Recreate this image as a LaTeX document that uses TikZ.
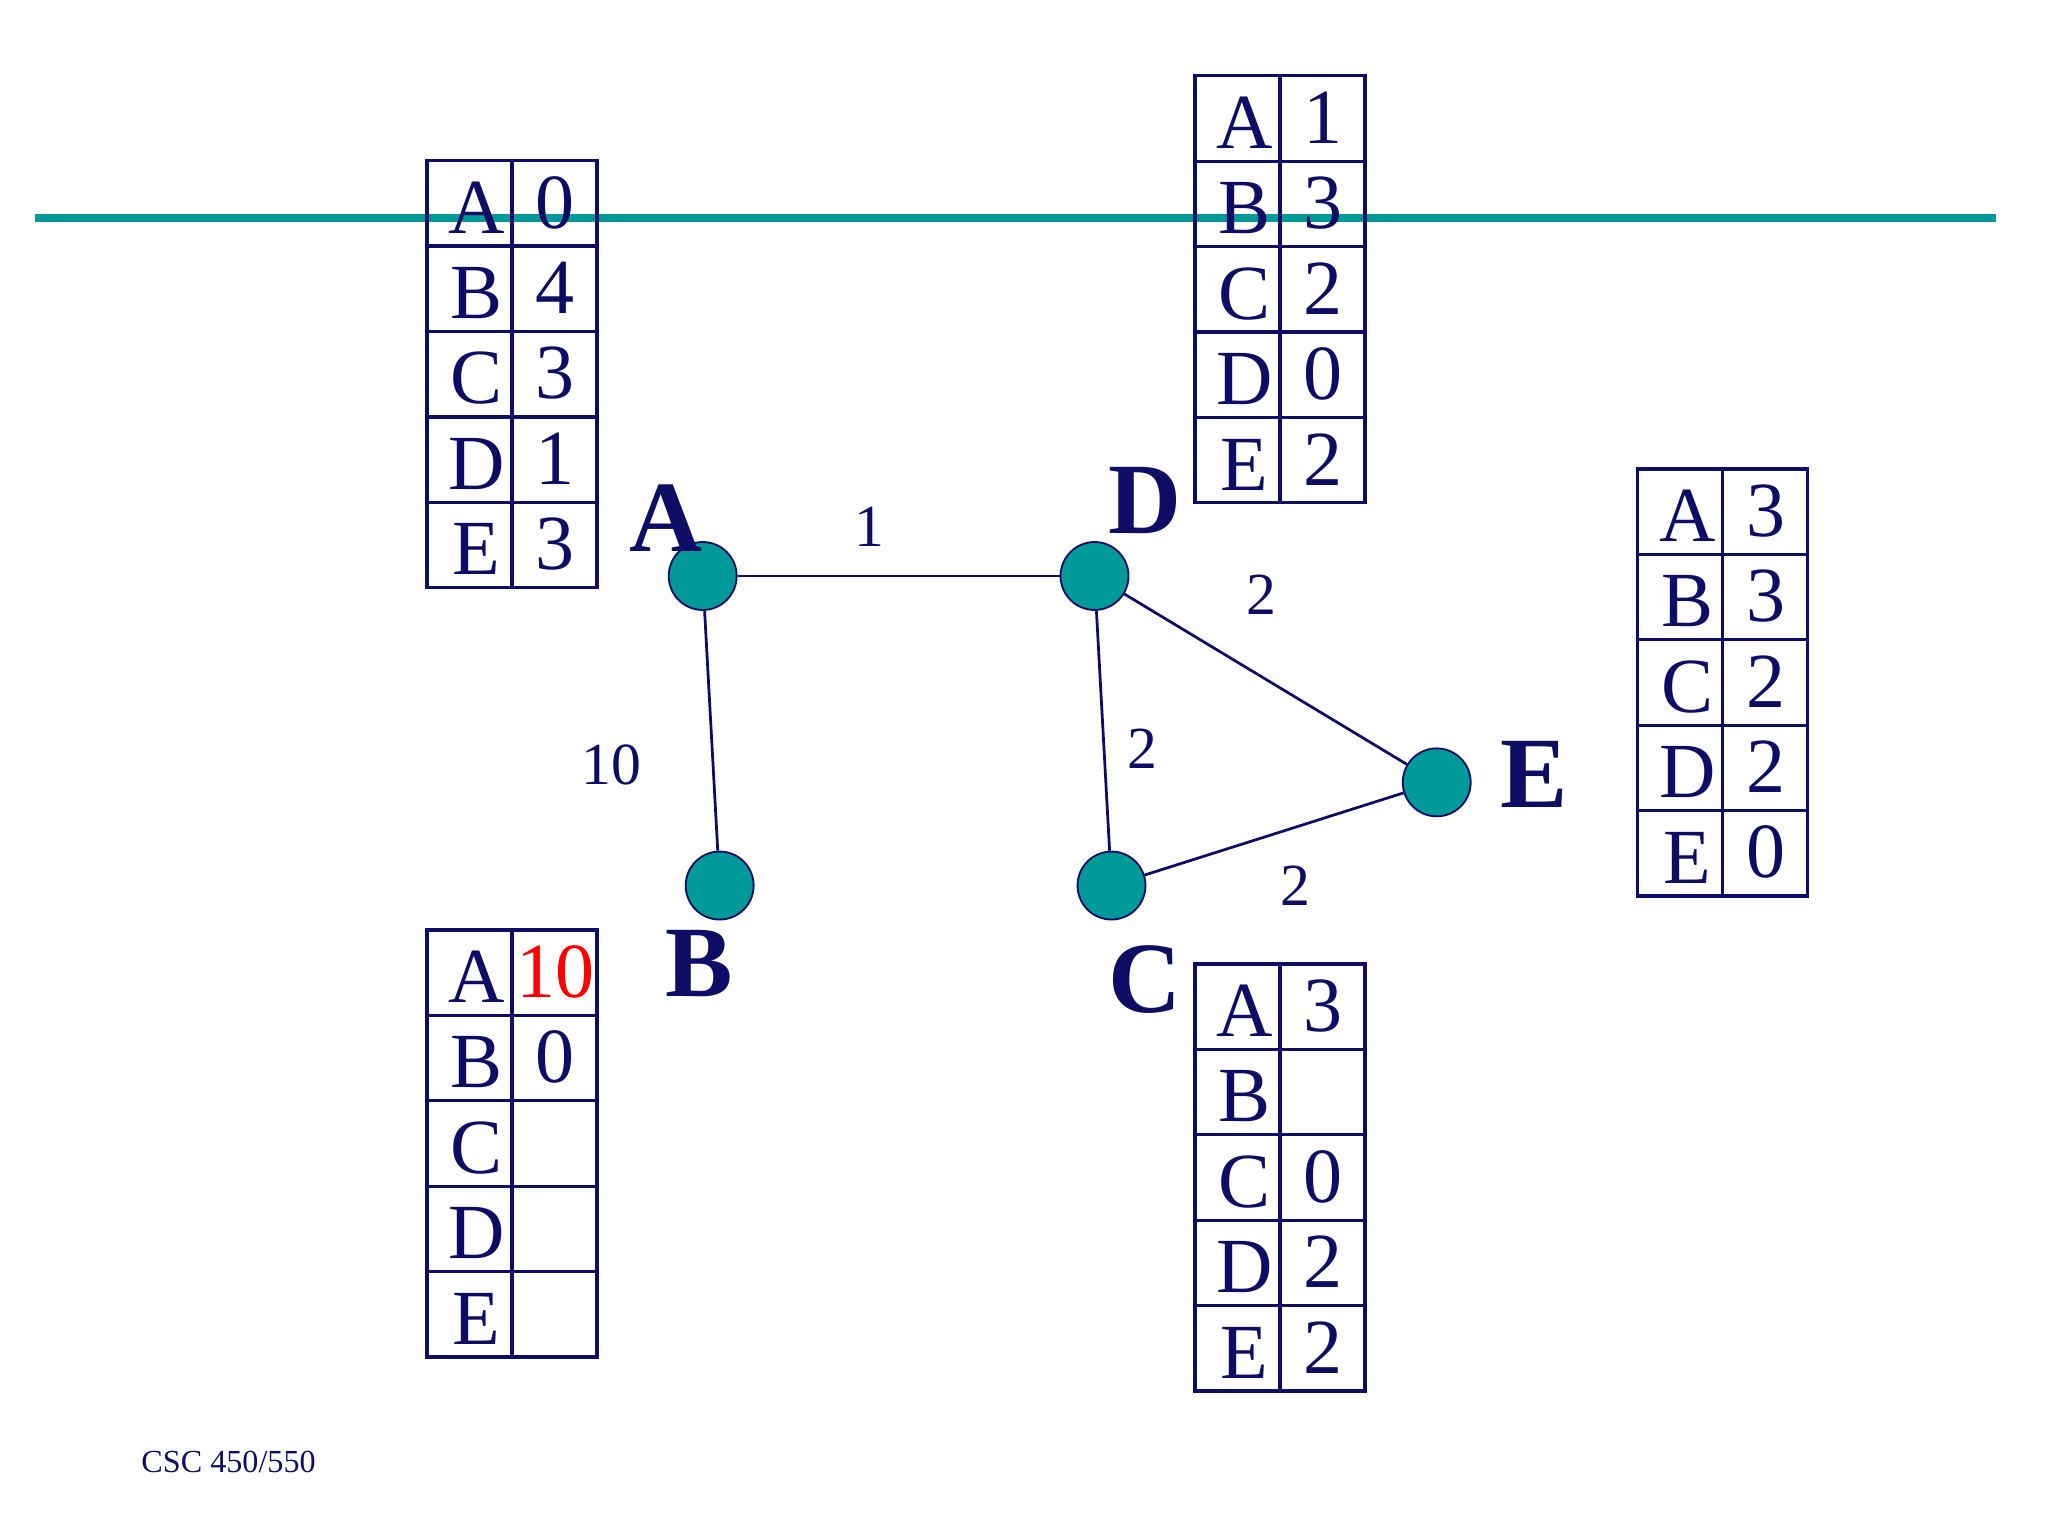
\documentclass[tikz,border=0pt]{standalone}
\usepackage{fontspec}
\setmainfont{Liberation Serif}
\definecolor{navy}{rgb}{0.05,0.05,0.4}
\definecolor{tealc}{rgb}{0,0.6,0.6}
\begin{document}
\begin{tikzpicture}[x=0.01cm,y=-0.01cm,
  vtx/.style={circle,fill=tealc,draw=navy,minimum size=0.52cm,inner sep=0pt},
  big/.style={text=navy,font=\fontsize{22}{24}\selectfont\bfseries},
  elab/.style={text=navy,font=\fontsize{13}{15}\selectfont},
  cell/.style={text=navy,font=\fontsize{17}{19}\selectfont},
  edge/.style={draw=navy,line width=0.6pt}]
\useasboundingbox (0,0) rectangle (1568,1176);
\draw[tealc,line width=1.8pt] (27,167) -- (1528,167);
% tables: \tbl{x}{ytop}{name}{values}
\newcommand\mytbl[4]{%
  \draw[navy,line width=0.7pt] (#1,#2) rectangle ++(130,327);
  \draw[navy,line width=0.7pt] (#1+65,#2) -- ++(0,327);
  \foreach \i in {1,...,4} \draw[navy,line width=0.7pt] (#1,#2+65.4*\i) -- ++(130,0);
  \foreach \L/\V [count=\i from 0] in {#4} {
    \node[cell] (#3-l\i) at (#1+38,#2+65.4*\i+36) {\L};
    \node[cell] (#3-v\i) at (#1+98,#2+65.4*\i+32) {\V};
  }}
\mytbl{327}{123}{ta}{A/0,B/4,C/3,D/1,E/3}
\mytbl{915}{58}{td}{A/1,B/3,C/2,D/0,E/2}
\mytbl{1254}{359}{te}{A/3,B/3,C/2,D/2,E/0}
\mytbl{327}{712}{tb}{A/\textcolor{red}{10},B/0,C/,D/,E/}
\mytbl{915}{738}{tc}{A/3,B/,C/0,D/2,E/2}
\node[vtx] (A) at (538,441) {};
\node[vtx] (D) at (838,441) {};
\node[vtx] (E) at (1100,599) {};
\node[vtx] (B) at (551,678) {};
\node[vtx] (C) at (851,678) {};
\draw[edge] (A) -- (D);
\draw[edge] (A) -- (B);
\draw[edge] (D) -- (E);
\draw[edge] (D) -- (C);
\draw[edge] (C) -- (E);
\node[big] (lA) at (510,397) {A};
\node[big] (lD) at (877,383) {D};
\node[big] (lE) at (1175,593) {E};
\node[big] (lB) at (535,738) {B};
\node[big] (lC) at (877,750) {C};
\node[elab] (e1) at (666,403) {1};
\node[elab] (e2) at (966,455) {2};
\node[elab] (e3) at (875,573) {2};
\node[elab] (e4) at (468,586) {10};
\node[elab] (e5) at (992,678) {2};
\node[text=navy,font=\fontsize{7}{8}\selectfont] (ft) at (175,1119) {CSC 450/550};
\end{tikzpicture}
\end{document}
